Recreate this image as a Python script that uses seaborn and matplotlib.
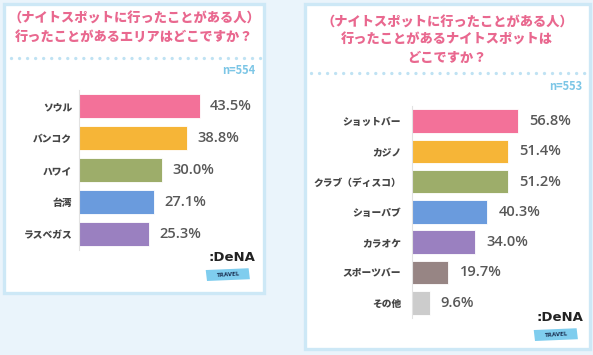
import pandas as pd
import matplotlib.pyplot as plt
import seaborn as sns
from matplotlib.patches import Rectangle
from matplotlib.lines import Line2D

# データ
areas = ["ソウル", "バンコク", "ハワイ", "台湾", "ラスベガス"]
area_pct = [43.5, 38.8, 30.0, 27.1, 25.3]

spots = ["ショットバー", "カジノ", "クラブ（ディスコ）", "ショーパブ", "カラオケ", "スポーツバー", "その他"]
spot_pct = [56.8, 51.4, 51.2, 40.3, 34.0, 19.7, 9.6]

title_left = "（ナイトスポットに行ったことがある人）\n行ったことがあるエリアはどこですか？"
title_right = "（ナイトスポットに行ったことがある人）\n行ったことがあるナイトスポットは\nどこですか？"
n_left = "n=554"
n_right = "n=553"

colors = ["#F37199", "#F6B537", "#9DAD6A", "#6A9BDD", "#9A80C0", "#978584", "#CCCCCC"]

W, H = 593, 355
sns.set_style("white")
plt.rcParams["font.family"] = ["Noto Sans CJK JP", "DejaVu Sans"]

fig = plt.figure(figsize=(W / 100, H / 100), dpi=100)
fig.patch.set_facecolor("#EAF4FB")


def fx(x):
    return x / W


def fy(y):
    return 1 - y / H


def panel(x0, y0, x1, y1):
    fig.patches.append(Rectangle((fx(x0), fy(y1)), fx(x1 - x0), (y1 - y0) / H,
                                 transform=fig.transFigure, facecolor="white",
                                 edgecolor="#CDE8F6", linewidth=2.4, zorder=0))


def dots(x0, x1, y):
    fig.lines.append(Line2D([fx(x0), fx(x1)], [fy(y), fy(y)], transform=fig.transFigure,
                            color="#BFE2F3", linewidth=2.4, dash_capstyle="round",
                            linestyle=(0, (0.01, 2.4))))


def logo(x, y):
    # x, y = 左上 (px)
    fig.text(fx(x), fy(y), ":DeNA", fontsize=9.5, fontweight="bold", color="#222222",
             family=["DejaVu Sans"], va="top", ha="left")
    fig.patches.append(Rectangle((fx(x - 1), fy(y + 30)), fx(43), 11 / H,
                                 transform=fig.transFigure, facecolor="#7FCDEE",
                                 edgecolor="none", angle=4, zorder=1))
    fig.text(fx(x + 20.5), fy(y + 23.5), "TRAVEL", fontsize=4, fontweight="bold",
             color="#1E3557", ha="center", va="center", rotation=4,
             family=["DejaVu Sans"])


def bars(labels, values, left, top, width, slot, bar_h, xmax, pad_lbl, pad_val):
    n = len(labels)
    height = slot * n
    ax = fig.add_axes([fx(left), fy(top + height), fx(width), height / H])
    ax.set_zorder(5)
    df = pd.DataFrame({"cat": labels, "pct": values})
    sns.barplot(data=df, x="pct", y="cat", hue="cat", palette=colors[:n], legend=False,
                orient="h", width=bar_h / slot, saturation=1, ax=ax,
                edgecolor="white", linewidth=0.6)
    ax.set_xlim(0, xmax)
    ax.set_ylim(n - 0.5, -0.5)
    ax.patch.set_alpha(0)
    ax.set_xlabel("")
    ax.set_ylabel("")
    ax.set_xticks([])
    for s in ["top", "right", "bottom"]:
        ax.spines[s].set_visible(False)
    ax.spines["left"].set_color("#E2E2E2")
    ax.spines["left"].set_linewidth(0.8)
    ax.tick_params(axis="y", length=0, pad=pad_lbl, labelsize=7, labelcolor="#454545")
    for t in ax.get_yticklabels():
        t.set_fontweight("heavy")
    for c in ax.containers:
        ax.bar_label(c, fmt="%.1f%%", padding=pad_val, fontsize=10.5,
                     fontweight="semibold", color="#585858", family=["Open Sans"])
    return ax


# 左パネル
panel(4, 4, 264, 293)
fig.text(fx(134), fy(28), title_left, ha="center", va="center", fontsize=9.5,
         fontweight="heavy", color="#E9688F", linespacing=1.35)
dots(11, 262, 58)
fig.text(fx(255), fy(70), n_left, ha="right", va="center", fontsize=8,
         fontweight="bold", color="#7CC6E6")
bars(areas, area_pct, 79, 90, 180, 32, 24, 180 / 2.775, 5, 7.5)
logo(208, 251)

# 右パネル
panel(305, 4, 590, 349)
fig.text(fx(447), fy(40), title_right, ha="center", va="center", fontsize=9.5,
         fontweight="heavy", color="#E9688F", linespacing=1.35)
dots(311, 588, 73)
fig.text(fx(582), fy(86), n_right, ha="right", va="center", fontsize=8,
         fontweight="bold", color="#7CC6E6")
bars(spots, spot_pct, 411.5, 105.8, 170, 30.3, 23.5, 170 / 1.878, 7.5, 8)
logo(536, 311)

fig.savefig("out.png", dpi=100, facecolor=fig.get_facecolor())
